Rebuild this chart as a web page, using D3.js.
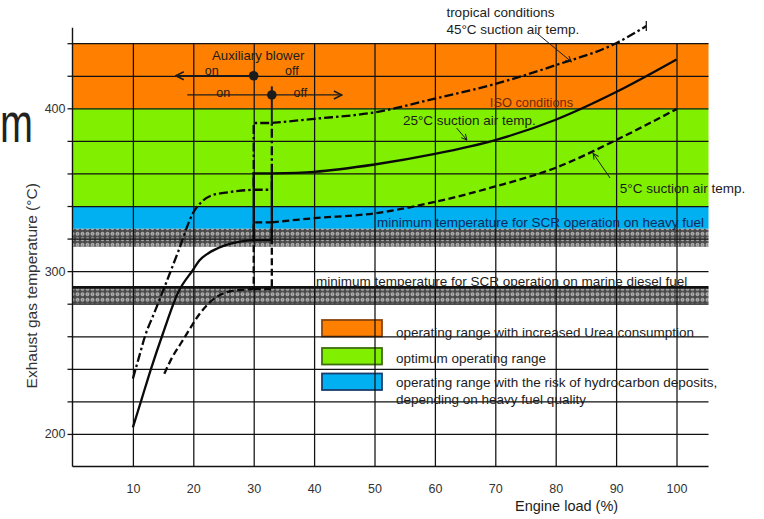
<!DOCTYPE html>
<html>
<head>
<meta charset="utf-8">
<script src="https://cdn.jsdelivr.net/npm/d3@7"></script>
<style>
  body { margin: 0; background: #fff; }
  svg { display: block; font-family: "Liberation Sans", Arial, sans-serif; }
</style>
</head>
<body>
<svg id="chart" width="764" height="519"></svg>
<script>
// ---- data -------------------------------------------------------------
// x: engine load (%), y: exhaust gas temperature (°C)
const loadTicks = [10, 20, 30, 40, 50, 60, 70, 80, 90, 100];
const tempGrid = [200, 220, 240, 260, 280, 300, 320, 340, 360, 380, 400, 420, 440];
const tempLabels = [200, 300, 400];

// operating ranges (°C): Urea, optimum, hydrocarbon risk
const rangeNames = [
  ["operating range with increased Urea consumption"],
  ["optimum operating range"],
  ["operating range with the risk of hydrocarbon deposits,", "depending on heavy fuel quality"]
];
const rangeLow = [400, 340, 326];
const rangeHigh = [440, 400, 340];

// minimum SCR temperature bands (°C)
const heavyFuelBand = [315, 326];
const dieselBand = [280, 290];

// auxiliary blower switch points (% load)
const blowerOn = 30;
const blowerOff = 33;

// 45 °C suction air (tropical conditions)
const t45Low = [[10, 234], [11, 247], [12, 260], [13.5, 274], [15, 288], [17.5, 312], [20, 336],
                [21.5, 343], [23, 346.5], [25, 348], [27.5, 349.3], [30, 350]];
const t45High = [[33, 391], [40, 393.5], [50, 397.5], [60, 406], [70, 415], [80, 426.5],
                 [90, 440], [95, 450.5]];
// 25 °C suction air (ISO conditions)
const t25Low = [[10, 204], [11.5, 222], [13, 240], [15, 262], [17.5, 287], [20, 301], [21, 306.5],
                [22.5, 311], [25, 315.5], [27.5, 318], [30, 319]];
const t25High = [[33, 360], [40, 361], [50, 365.5], [60, 372], [70, 380.5], [80, 393],
                 [90, 410], [100, 430]];
// 5 °C suction air
const t5Low = [[15.2, 237], [16.5, 247], [18, 256], [19.5, 265], [21, 273.5], [22.5, 280],
               [24, 284.5], [26, 287.5], [28, 288.5], [30, 289]];
const t5High = [[33, 330], [40, 332.5], [50, 335.5], [60, 342.5], [70, 352], [80, 363.5],
                [90, 380.5], [100, 399.5]];

// ---- styles -----------------------------------------------------------
const rangeFill = ["#ff8000", "#80f000", "#00b0f0"];
const rangeEdge = ["#8a4510", "#3d6d10", "#1b3d6e"];
const ink = "#1c1c1c";

// ---- scales -----------------------------------------------------------
const svg = d3.select("#chart");
const x = d3.scaleLinear().domain([0, 100]).range([72.5, 676.5]);
const y = d3.scaleLinear().domain([180, 440]).range([466.5, 43.2]);
const loadEnd = 105.3;   // right edge of the plot area
const tempTop = 449.5;   // top of the vertical axis line

const defs = svg.append("defs");
// stippled fill for the minimum-temperature bands
const pat = defs.append("pattern").attr("id", "stipple")
  .attr("patternUnits", "userSpaceOnUse").attr("width", 5).attr("height", 5.5);
pat.append("rect").attr("width", 5).attr("height", 5.5).attr("fill", "#4a4a4a");
pat.append("circle").attr("cx", 2.5).attr("cy", 2.75).attr("r", 1.5)
  .attr("fill", "#8a8a8a").attr("stroke", "#d0d0d0").attr("stroke-width", 0.8);

// arrowheads
defs.append("marker").attr("id", "chev")
  .attr("viewBox", "0 0 10 10").attr("refX", 9).attr("refY", 5)
  .attr("markerWidth", 10).attr("markerHeight", 10)
  .attr("markerUnits", "userSpaceOnUse").attr("orient", "auto")
  .append("path").attr("d", "M1,1 L9,5 L1,9").attr("fill", "none")
  .attr("stroke", ink).attr("stroke-width", 1.6);
defs.append("marker").attr("id", "tip")
  .attr("viewBox", "0 0 10 10").attr("refX", 9).attr("refY", 5)
  .attr("markerWidth", 7).attr("markerHeight", 7)
  .attr("markerUnits", "userSpaceOnUse").attr("orient", "auto")
  .append("path").attr("d", "M1,1 L9,5 L1,9").attr("fill", "none")
  .attr("stroke", ink).attr("stroke-width", 1.4);

// ---- operating range bands -------------------------------------------
svg.append("g").selectAll("rect").data(rangeLow).join("rect")
  .attr("x", x(0)).attr("width", x(loadEnd) - x(0))
  .attr("y", (d, i) => y(rangeHigh[i]))
  .attr("height", (d, i) => y(rangeLow[i]) - y(rangeHigh[i]))
  .attr("fill", (d, i) => rangeFill[i]);

svg.append("g").selectAll("rect").data([heavyFuelBand, dieselBand]).join("rect")
  .attr("x", x(0)).attr("width", x(loadEnd) - x(0))
  .attr("y", d => y(d[1])).attr("height", d => y(d[0]) - y(d[1]))
  .attr("fill", "url(#stipple)");

// ---- legend swatches (under the grid) ---------------------------------
const legX = 322, legTextX = 396;
const legSwY = [320, 348, 373.5];
const legTextY = [336.5, 363, 386.5];
svg.append("g").selectAll("rect").data(rangeFill).join("rect")
  .attr("x", legX).attr("y", (d, i) => legSwY[i])
  .attr("width", 60).attr("height", 16.5)
  .attr("fill", d => d)
  .attr("stroke", (d, i) => rangeEdge[i]).attr("stroke-width", 1.8);

// ---- grid and axes ----------------------------------------------------
const plotW = x(loadEnd) - x(0);
svg.append("g").attr("transform", `translate(${x(0)},0)`)
  .call(d3.axisLeft(y).tickValues(tempGrid).tickSize(-plotW).tickFormat(""))
  .call(g => g.select(".domain").remove())
  .call(g => g.selectAll("line").attr("stroke", "#111").attr("stroke-width", 1.25));

svg.append("g").attr("transform", `translate(0,${y(180)})`)
  .call(d3.axisBottom(x).tickValues(loadTicks).tickSize(-(y(180) - y(440))).tickFormat(""))
  .call(g => g.select(".domain").remove())
  .call(g => g.selectAll("line").attr("stroke", "#111").attr("stroke-width", 1.25));

// y axis: short ticks with labels at 200/300/400
svg.append("g").attr("transform", `translate(${x(0)},0)`)
  .call(d3.axisLeft(y).tickValues(tempGrid).tickSize(5).tickPadding(2)
    .tickFormat(d => tempLabels.includes(d) ? d : ""))
  .call(g => g.select(".domain").remove())
  .call(g => g.selectAll("line").attr("stroke", "#111").attr("stroke-width", 1.25))
  .call(g => g.selectAll("text").attr("font-size", 12.5).attr("fill", "#333")
    .attr("font-family", "'Liberation Sans', Arial, sans-serif"));

// x axis labels
svg.append("g").attr("transform", `translate(0,${y(180)})`)
  .call(d3.axisBottom(x).tickValues(loadTicks).tickSize(0).tickPadding(17.5))
  .call(g => g.select(".domain").remove())
  .call(g => g.selectAll("text").attr("font-size", 12.5).attr("fill", "#333")
    .attr("font-family", "'Liberation Sans', Arial, sans-serif"));

// axis lines
svg.append("line").attr("x1", x(0)).attr("x2", x(0))
  .attr("y1", y(180)).attr("y2", y(tempTop)).attr("stroke", "#111").attr("stroke-width", 1.4);
svg.append("line").attr("x1", x(0)).attr("x2", x(loadEnd))
  .attr("y1", y(180)).attr("y2", y(180)).attr("stroke", "#111").attr("stroke-width", 1.4);

// thick line at the marine diesel limit
svg.append("line").attr("x1", x(0)).attr("x2", x(loadEnd))
  .attr("y1", y(dieselBand[1])).attr("y2", y(dieselBand[1]))
  .attr("stroke", "#111").attr("stroke-width", 2.6);

// ---- exhaust temperature curves --------------------------------------
const line = d3.line().x(d => x(d[0])).y(d => y(d[1])).curve(d3.curveMonotoneX);
const straight = d3.line().x(d => x(d[0])).y(d => y(d[1]));

const curves = [
  { low: t5Low, high: t5High, dash: "7,3.5" },
  { low: t25Low, high: t25High, dash: null },
  { low: t45Low, high: t45High, dash: "9,3,2.5,3" }
];
const cg = svg.append("g").attr("fill", "none").attr("stroke", "#0a0a0a")
  .attr("stroke-width", 2.3);
curves.forEach(c => {
  const vLow = c.low[c.low.length - 1][1];
  const vHigh = c.high[0][1];
  // hysteresis loop between blower switch-on and switch-off loads
  const loop = [[blowerOn, vLow], [blowerOff, vLow], [blowerOff, vHigh], [blowerOn, vHigh], [blowerOn, vLow]];
  [c.low, c.high].forEach(seg => cg.append("path").attr("d", line(seg))
    .attr("stroke-dasharray", c.dash));
  cg.append("path").attr("d", straight(loop)).attr("stroke-dasharray", c.dash);
});
// end mark of the 45 °C curve
const e45 = t45High[t45High.length - 1];
svg.append("line")
  .attr("x1", x(e45[0])).attr("x2", x(e45[0]))
  .attr("y1", y(e45[1]) - 5).attr("y2", y(e45[1]) + 5)
  .attr("stroke", ink).attr("stroke-width", 1.3);

// ---- auxiliary blower markers ----------------------------------------
const rowOn = 420, rowOff = 408.2;
const bg = svg.append("g").attr("stroke", ink).attr("fill", "none");
bg.append("line").attr("x1", x(blowerOn)).attr("x2", x(17.1))
  .attr("y1", y(rowOn)).attr("y2", y(rowOn)).attr("stroke-width", 1.3)
  .attr("marker-end", "url(#chev)");
bg.append("line").attr("x1", x(19)).attr("x2", x(44.6))
  .attr("y1", y(rowOff)).attr("y2", y(rowOff)).attr("stroke-width", 1.3)
  .attr("marker-end", "url(#chev)");
bg.append("line").attr("x1", x(blowerOff)).attr("x2", x(blowerOff))
  .attr("y1", y(413.5)).attr("y2", y(t45High[0][1])).attr("stroke-width", 2);
svg.append("g").attr("fill", ink).selectAll("circle")
  .data([[blowerOn, rowOn], [blowerOff, rowOff]]).join("circle")
  .attr("cx", d => x(d[0])).attr("cy", d => y(d[1])).attr("r", 4.8);

// ---- annotation arrows -------------------------------------------------
const pointers = [
  [[76.9, 446.1], [82.6, 428.6]],
  [[63.6, 387.9], [65.3, 380.5]],
  [[89, 357.2], [86.2, 372.3]]
];
svg.append("g").attr("stroke", ink).attr("stroke-width", 1).selectAll("line")
  .data(pointers).join("line")
  .attr("x1", d => x(d[0][0])).attr("y1", d => y(d[0][1]))
  .attr("x2", d => x(d[1][0])).attr("y2", d => y(d[1][1]))
  .attr("marker-end", "url(#tip)");

// ---- texts -------------------------------------------------------------
const T = (tx, ty, s, opts = {}) => svg.append("text")
  .attr("x", tx).attr("y", ty).text(s)
  .attr("font-size", opts.size || 13.5)
  .attr("fill", opts.fill || ink)
  .attr("text-anchor", opts.anchor || "start");

T(x(23.1), y(429.5), "Auxiliary blower", { size: 13.2 });
T(x(21.9), y(420) - 0.5, "on", { size: 12.5 });
T(x(35.2), y(420) - 0.5, "off", { size: 12.5 });
T(x(23.8), y(407), "on", { size: 12.5 });
T(x(36.6), y(407), "off", { size: 12.5 });

T(x(61.9), y(456), "tropical conditions");
T(x(61.9), y(445.7), "45°C suction air temp.");
T(x(69.1), y(400.8), "ISO conditions", { fill: "#6e2a0c", size: 12.8 });
T(x(54.7), y(390), "25°C suction air temp.");
T(x(90.6), y(347.8), "5°C suction air temp.");

T(x(50.4), y(327.4), "minimum temperature for SCR operation on heavy fuel", { fill: "#0f2a5c" });
T(x(40.3), y(291), "minimum temperature for SCR operation on marine diesel fuel");

// legend texts
rangeNames.forEach((lines, i) => {
  lines.forEach((s, j) => T(legTextX, legTextY[i] + j * 17, s));
});

// axis titles
T(x(81.8), 511, "Engine load (%)", { size: 14.5, anchor: "middle" });
svg.append("text")
  .attr("transform", `translate(37,${y(291)}) rotate(-90)`)
  .attr("text-anchor", "middle").attr("font-size", 15.5).attr("fill", "#333")
  .text("Exhaust gas temperature (°C)");

// large letter at the left margin
svg.append("text").attr("x", 0).attr("y", 142)
  .attr("font-size", 55).attr("fill", "#222")
  .attr("textLength", 33).attr("lengthAdjust", "spacingAndGlyphs")
  .text("m");
</script>
</body>
</html>
